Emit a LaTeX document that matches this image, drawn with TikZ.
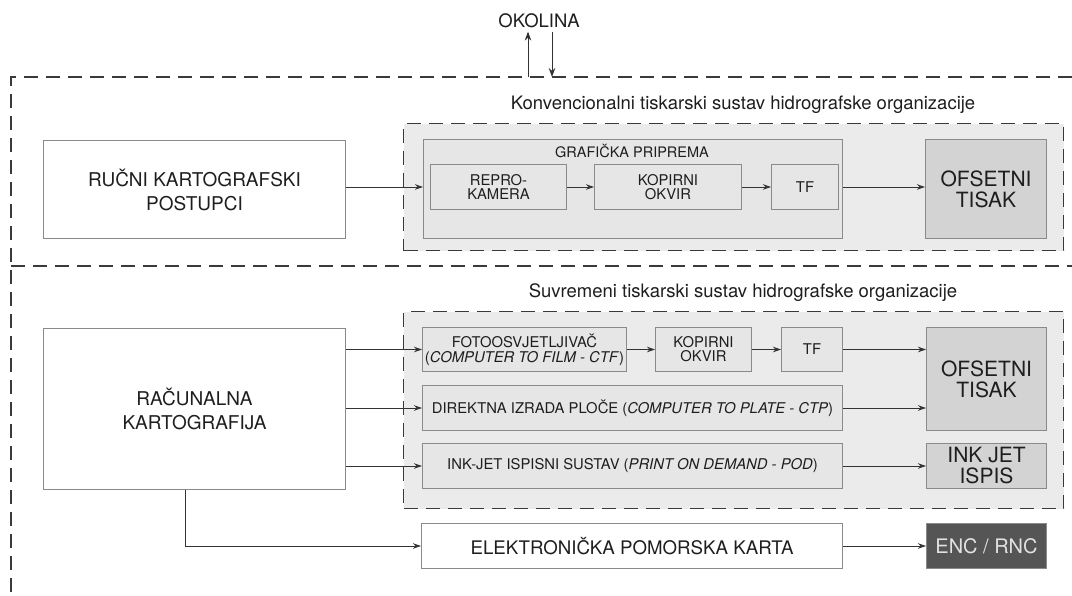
\documentclass[tikz,border=0pt]{standalone}
\usepackage{fontspec}
\setmainfont{TeX Gyre Heros}
\usepackage{tikz}
\usetikzlibrary{arrows.meta,calc}
\usepackage{xcolor}
\definecolor{PanelGray}{HTML}{EBEBEB}
\definecolor{BoxGray}{HTML}{E6E6E6}
\definecolor{OffsetGray}{HTML}{D3D3D3}
\definecolor{EncGray}{HTML}{555555}
\definecolor{EncText}{HTML}{E2E2E2}
\definecolor{BorderGray}{HTML}{8A8A8A}
\definecolor{FrameGray}{HTML}{3A3A3A}
\definecolor{LineGray}{HTML}{333333}
\definecolor{TextGray}{HTML}{1E1E1E}

\tikzset{
    frame/.style={draw=FrameGray, line width=1.3pt, dash pattern=on 14pt off 8pt},
    panel/.style={frame, fill=PanelGray, anchor=north west, inner sep=0pt},
    plainbox/.style={draw=BorderGray, line width=1pt, fill=white, anchor=north west,
        inner sep=0pt, align=center, text=TextGray},
    graybox/.style={plainbox, fill=BoxGray, font=\fontsize{14.8}{14}\selectfont},
    offsetbox/.style={plainbox, fill=OffsetGray, font=\fontsize{21}{21}\selectfont},
    arr/.style={draw=LineGray, line width=0.9pt, -{Stealth[length=8pt,width=5.5pt]}},
    bigarr/.style={draw=LineGray, line width=1pt, -{Stealth[length=9pt,width=6.5pt]}},
    heading/.style={text=TextGray, font=\fontsize{18.5}{20}\selectfont},
}

\begin{document}
\begin{tikzpicture}[x=1pt, y=-1pt]
    \useasboundingbox (0,0) rectangle (1072,596);

    \node[heading] (okolina) at (539,21) {OKOLINA};
    \coordinate (izlaz) at (528,77);
    \coordinate (ulaz) at (552,77);
    \draw[bigarr] (izlaz) -- (izlaz |- okolina.south);
    \draw[bigarr] (ulaz |- okolina.south) -- (ulaz);

    \draw[frame] (1072,77) -- (11,77) -- (11,596);
    \draw[frame] (11,266) -- (1072,266);

    \node[heading] (konvnaslov) at (743,105) {Konvencionalni tiskarski sustav hidrografske organizacije};
    \node[panel, minimum width=660pt, minimum height=127pt] (konv) at (403,123) {};
    \node[plainbox, minimum width=302pt, minimum height=98pt, font=\fontsize{19}{24}\selectfont] (rucni) at (43,140) {RUČNI KARTOGRAFSKI\\POSTUPCI};
    \node[graybox, minimum width=419pt, minimum height=99pt] (grafika) at (423,139) {};
    \node[text=TextGray, font=\fontsize{14.5}{14}\selectfont] (grafnaslov) at (632,151) {GRAFIČKA PRIPREMA};
    \node[graybox, minimum width=136pt, minimum height=45pt] (repro) at (430,164) {REPRO-\\KAMERA};
    \node[graybox, minimum width=147pt, minimum height=45pt] (kopirnia) at (594,164) {KOPIRNI\\OKVIR};
    \node[graybox, minimum width=67pt, minimum height=45pt] (tfa) at (771,164) {TF};
    \node[offsetbox, minimum width=121pt, minimum height=99pt] (ofseta) at (925,139) {OFSETNI\\TISAK};

    \draw[arr] (rucni.east |- repro.west) -- (grafika.west |- repro.west);
    \draw[arr] (repro) -- (kopirnia);
    \draw[arr] (kopirnia) -- (tfa);
    \draw[arr] (grafika.east |- tfa.east) -- (ofseta.west |- tfa.east);

    \node[heading] (suvrnaslov) at (743,293) {Suvremeni tiskarski sustav hidrografske organizacije};
    \node[panel, minimum width=660pt, minimum height=197pt] (suvr) at (403,311) {};
    \node[plainbox, minimum width=302pt, minimum height=161pt, font=\fontsize{19}{24}\selectfont] (racun) at (43,328) {RAČUNALNA\\KARTOGRAFIJA};
    \node[graybox, minimum width=204pt, minimum height=44pt, font=\fontsize{14.8}{15}\selectfont] (foto) at (422,327) {FOTOOSVJETLJIVAČ\\(\textit{COMPUTER TO FILM - CTF})};
    \node[graybox, minimum width=96pt, minimum height=44pt] (kopirnib) at (655,327) {KOPIRNI\\OKVIR};
    \node[graybox, minimum width=61pt, minimum height=44pt] (tfb) at (781,327) {TF};
    \node[offsetbox, minimum width=120pt, minimum height=103pt] (ofsetb) at (926,327) {OFSETNI\\TISAK};
    \node[graybox, minimum width=420pt, minimum height=45pt] (direkt) at (422,385) {DIREKTNA IZRADA PLOČE (\textit{COMPUTER TO PLATE - CTP})};
    \node[graybox, minimum width=420pt, minimum height=45pt] (inkjet) at (422,443) {INK-JET ISPISNI SUSTAV (\textit{PRINT ON DEMAND - POD})};
    \node[offsetbox, minimum width=120pt, minimum height=45pt] (inkispis) at (926,443) {INK JET\\ISPIS};
    \node[plainbox, minimum width=421pt, minimum height=45pt, font=\fontsize{18.7}{20}\selectfont] (elektr) at (421,523) {ELEKTRONIČKA POMORSKA KARTA};
    \node[plainbox, minimum width=120pt, minimum height=45pt, fill=EncGray, text=EncText, font=\fontsize{20}{20}\selectfont] (enc) at (926,523) {ENC / RNC};

    \draw[arr] (racun.east |- foto.west) -- (foto.west);
    \draw[arr] (racun.east |- direkt.west) -- (direkt.west);
    \draw[arr] (racun.east |- inkjet.west) -- (inkjet.west);
    \draw[arr] ($(racun.south)+(-9,0)$) |- (elektr.west);
    \draw[arr] (foto) -- (kopirnib);
    \draw[arr] (kopirnib) -- (tfb);
    \draw[arr] (tfb.east) -- (ofsetb.west |- tfb.east);
    \draw[arr] (direkt.east) -- (ofsetb.west |- direkt.east);
    \draw[arr] (inkjet) -- (inkispis);
    \draw[arr] (elektr) -- (enc);
\end{tikzpicture}
\end{document}
